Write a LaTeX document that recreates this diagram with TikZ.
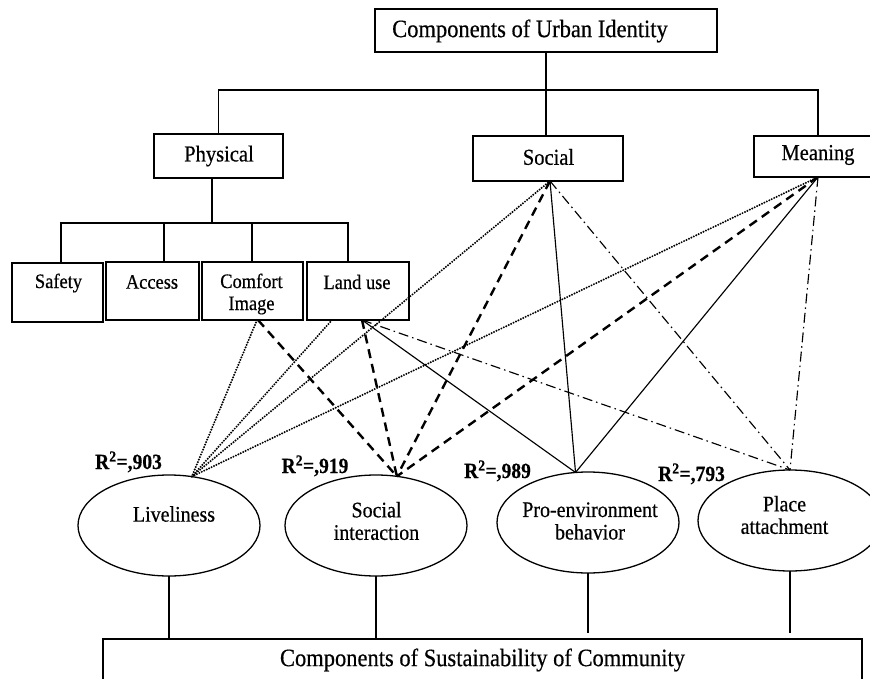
\documentclass[tikz,border=0pt]{standalone}
\usepackage{fontspec}
\setmainfont{Liberation Serif}[FakeStretch=0.9,FakeBold=0.5]
\usetikzlibrary{shapes.geometric,calc}
\begin{document}
\begin{tikzpicture}[x=1pt,y=-1pt,
  box/.style={draw, line width=1.3pt, inner sep=0pt, outer sep=0pt},
  ell/.style={draw, ellipse, line width=1.3pt, inner sep=0pt, outer sep=0pt, minimum width=182pt, minimum height=101pt},
  tree/.style={line width=1.3pt},
  dotl/.style={line width=2.2pt, line cap=round, dash pattern=on 0pt off 2.7pt},
  dashl/.style={line width=2.4pt, dash pattern=on 9pt off 6pt},
  solidl/.style={line width=1.15pt},
  ddl/.style={line width=1.15pt, dash pattern=on 10pt off 4pt on 1.5pt off 4pt},
  bigtxt/.style={inner sep=0pt, font=\fontsize{25}{29}\selectfont},
  midtxt/.style={inner sep=0pt, font=\fontsize{22.8}{26}\selectfont},
  smtxt/.style={inner sep=0pt, align=center, font=\fontsize{20.5}{22}\selectfont},
  elltxt/.style={inner sep=0pt, align=center, font=\fontsize{22.2}{22.5}\selectfont},
  rsq/.style={inner sep=0pt, anchor=base, font=\bfseries\fontsize{21.7}{24}\selectfont}
]
\useasboundingbox (0,0) rectangle (870,679);

% upper level boxes
\node[box, minimum width=342pt, minimum height=43pt] (top) at (546,30.5) {};
\node[bigtxt] (topT) at (530,31) {Components of Urban Identity};
\node[box, minimum width=129pt, minimum height=44pt] (phys) at (218.5,156) {};
\node[midtxt] (physT) at (219,156) {Physical};
\node[box, minimum width=150pt, minimum height=45pt] (soc) at (548,158.5) {};
\node[midtxt] (socT) at (548.5,157) {Social};
\node[box, minimum width=128pt, minimum height=41pt] (mean) at (818,156.5) {};
\node[midtxt] (meanT) at (818,155) {Meaning};

% physical sub-boxes
\node[box, minimum width=91pt, minimum height=59pt] (safe) at (57.5,292.5) {};
\node[smtxt] (safeT) at (58.5,283) {Safety};
\node[box, minimum width=93pt, minimum height=58pt] (acc) at (152.5,291) {};
\node[smtxt] (accT) at (152,282) {Access};
\node[box, minimum width=101pt, minimum height=58pt] (comf) at (252.5,291) {};
\node[smtxt] (comfT) at (251.5,294) {Comfort\\Image};
\node[box, minimum width=102pt, minimum height=58pt] (land) at (358,291) {};
\node[smtxt] (landT) at (357,282) {Land use};

% ellipses
\node[ell] (liv) at (169,525.5) {};
\node[elltxt] (livT) at (174,514) {Liveliness};
\node[ell] (si) at (376,525.5) {};
\node[elltxt] (siT) at (376.5,521) {Social\\interaction};
\node[ell] (pro) at (588,522.5) {};
\node[elltxt] (proT) at (590,521) {Pro-environment\\behavior};
\node[ell, minimum width=184pt] (pla) at (790,520.5) {};
\node[elltxt] (plaT) at (784.5,515) {Place\\attachment};

% R^2 labels
\node[rsq] (r1) at (128.5,469) {R\textsuperscript{2}=,903};
\node[rsq] (r2) at (315,473) {R\textsuperscript{2}=,919};
\node[rsq] (r3) at (497.5,478) {R\textsuperscript{2}=,989};
\node[rsq] (r4) at (691.5,481) {R\textsuperscript{2}=,793};

% bottom box
\node[box, minimum width=759pt, minimum height=42pt] (bot) at (482.5,660) {};
\node[bigtxt] (botT) at (482.5,660) {Components of Sustainability of Community};

% tree connectors
\coordinate (bus) at (546,90);
\draw[tree] (top.south) -- (bus);
\draw[tree] (phys.north) |- (bus) -| (mean.north);
\draw[tree] (bus) -- (bus |- soc.north);

\coordinate (pbus) at (212,223);
\draw[tree] ([xshift=-6.5pt]phys.south) -- (pbus);
\coordinate (safeD) at ([xshift=3.5pt]safe.north);
\coordinate (accD) at ([xshift=11.5pt]acc.north);
\coordinate (comfD) at ([xshift=-0.5pt]comf.north);
\coordinate (landD) at ([xshift=-10pt]land.north);
\draw[tree] (safeD) |- (pbus) -| (landD);
\draw[tree] (accD) -- (accD |- pbus);
\draw[tree] (comfD) -- (comfD |- pbus);

% ellipses to bottom box
\draw[tree] (liv.south) -- (liv.south |- bot.north);
\draw[tree] (si.south) -- (si.south |- bot.north);
\draw[tree] (pro.south) -- ++(0,60);
\draw[tree] (pla.south) -- ++(0,62);

% dotted: to Liveliness
\draw[dotl] ([xshift=4.5pt]comf.south) -- (liv.65);
\draw[dotl] ([xshift=-26pt]land.south) -- (liv.65);
\draw[dotl] ([xshift=2pt]soc.south) -- (liv.65);
\draw[dotl] (mean.south) -- (liv.65);

% dashed: to Social interaction
\draw[dashl] ([xshift=5.5pt]comf.south) -- (si.67);
\draw[dashl] ([xshift=4pt]land.south) -- (si.67);
\draw[dashl] ([xshift=2pt]soc.south) -- (si.67);
\draw[dashl] (mean.south) -- (si.67);

% solid: to Pro-environment behavior
\draw[solidl] ([xshift=4pt]land.south) -- (pro.104);
\draw[solidl] ([xshift=2pt]soc.south) -- (pro.104);
\draw[solidl] (mean.south) -- (pro.104);

% dash-dot: to Place attachment
\draw[ddl] ([xshift=4pt]land.south) -- (pla.north);
\draw[ddl] ([xshift=2pt]soc.south) -- (pla.north);
\draw[ddl] (mean.south) -- (pla.north);
\end{tikzpicture}
\end{document}
